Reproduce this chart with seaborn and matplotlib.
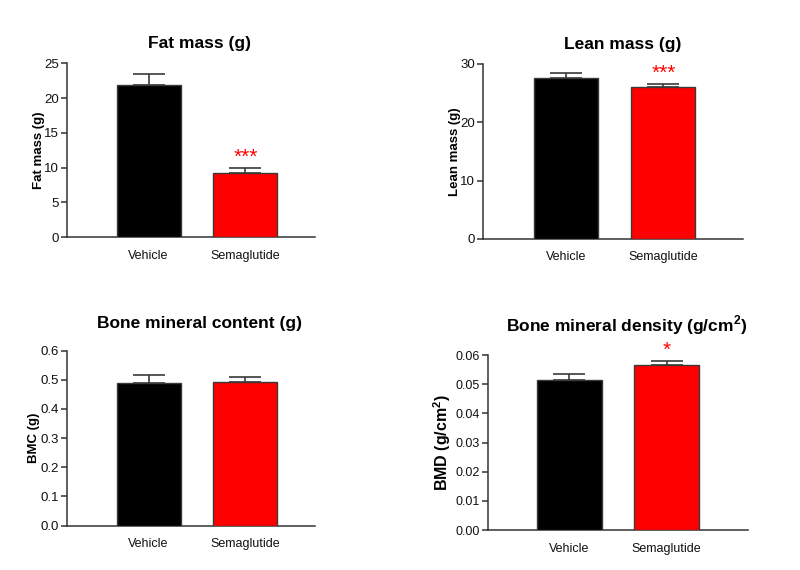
import matplotlib
matplotlib.use("Agg")
import matplotlib.pyplot as plt
import numpy as np
import pandas as pd
import seaborn as sns

sns.set_style("ticks")
plt.rcParams['font.family'] = ['Liberation Sans', 'DejaVu Sans']
plt.rcParams['mathtext.fontset'] = 'custom'
plt.rcParams['mathtext.rm'] = 'Liberation Sans'
plt.rcParams['mathtext.bf'] = 'Liberation Sans:bold'

# groups
groups = ['Vehicle', 'Semaglutide']
bar_colors = ['#000000', '#FF0000']

# values (mean, upper SEM)
fat_mean = [21.9, 9.25]
fat_sem = [1.6, 0.65]
lean_mean = [27.6, 26.1]
lean_sem = [0.9, 0.4]
bmc_mean = [0.489, 0.493]
bmc_sem = [0.028, 0.015]
bmd_mean = [0.0515, 0.0566]
bmd_sem = [0.0019, 0.0013]

# significance marks
fat_stars = ['', '***']
lean_stars = ['', '***']
bmc_stars = ['', '']
bmd_stars = ['', '*']

panels = [
    dict(mean=fat_mean, sem=fat_sem, stars=fat_stars, title='Fat mass (g)',
         ylabel='Fat mass (g)', ylim=25, ticks=np.arange(0, 26, 5), fmt='{:.0f}',
         rect=[0.084, 0.584, 0.310, 0.305], xlim=(-0.84, 1.72), pad=11, lpad=-1,
         lsize=9.5, tsize=9.5),
    dict(mean=lean_mean, sem=lean_sem, stars=lean_stars, title='Lean mass (g)',
         ylabel='Lean mass (g)', ylim=30, ticks=np.arange(0, 31, 10), fmt='{:.0f}',
         rect=[0.604, 0.581, 0.325, 0.307], xlim=(-0.85, 1.82), pad=11, lpad=-1,
         lsize=9.5, tsize=9.5),
    dict(mean=bmc_mean, sem=bmc_sem, stars=bmc_stars, title='Bone mineral content (g)',
         ylabel='BMC (g)', ylim=0.6, ticks=np.arange(0, 0.61, 0.1), fmt='{:.1f}',
         rect=[0.084, 0.078, 0.310, 0.307], xlim=(-0.84, 1.72), pad=16, lpad=0,
         lsize=9.5, tsize=9.5),
    dict(mean=bmd_mean, sem=bmd_sem, stars=bmd_stars,
         title=r'Bone mineral density (g/cm$^\mathbf{2}$)',
         ylabel=r'BMD (g/cm$^\mathbf{2}$)', ylim=0.06, ticks=np.arange(0, 0.061, 0.01),
         fmt='{:.2f}', rect=[0.610, 0.070, 0.325, 0.307], xlim=(-0.84, 1.84), pad=17,
         lpad=2, lsize=11.5, tsize=9),
]

fig = plt.figure(figsize=(8, 5.7), dpi=100)

for p in panels:
    ax = fig.add_axes(p['rect'])
    df = pd.DataFrame({'group': groups, 'value': p['mean']})
    sns.barplot(data=df, x='group', y='value', hue='group', palette=bar_colors,
                saturation=1, legend=False, width=0.66, edgecolor='#3a3a3a',
                linewidth=1.0, errorbar=None, ax=ax, zorder=3)
    # upper-only error bars
    xs = np.arange(len(groups))
    ax.errorbar(xs, p['mean'], yerr=[np.zeros(len(groups)), p['sem']], fmt='none',
                ecolor='#3a3a3a', elinewidth=1.2, capsize=11.5, capthick=1.2, zorder=2)
    for x, m, s, st in zip(xs, p['mean'], p['sem'], p['stars']):
        if st:
            ax.annotate(st, (x, m + s), xytext=(0, 1), textcoords='offset points',
                        ha='center', va='bottom', color='#FF0000', fontsize=15)
    ax.set_ylim(0, p['ylim'])
    ax.set_xlim(*p['xlim'])
    ax.set_yticks(p['ticks'])
    ax.set_yticklabels([p['fmt'].format(t) for t in p['ticks']], fontsize=p['tsize'],
                       color='#111111')
    ax.tick_params(axis='y', direction='out', length=4, width=1.1, color='#333333', pad=2)
    ax.tick_params(axis='x', length=0, labelsize=9, labelcolor='#111111', pad=9)
    ax.set_xlabel('')
    ax.set_ylabel(p['ylabel'], fontsize=p['lsize'], fontweight='bold', labelpad=p['lpad'],
                  color='black')
    ax.set_title(p['title'], fontsize=12.5, fontweight='bold', pad=p['pad'], x=0.535,
                 color='black')
    for side in ['top', 'right']:
        ax.spines[side].set_visible(False)
    for side in ['left', 'bottom']:
        ax.spines[side].set_linewidth(1.1)
        ax.spines[side].set_color('#333333')

fig.savefig('out.png', dpi=100)
